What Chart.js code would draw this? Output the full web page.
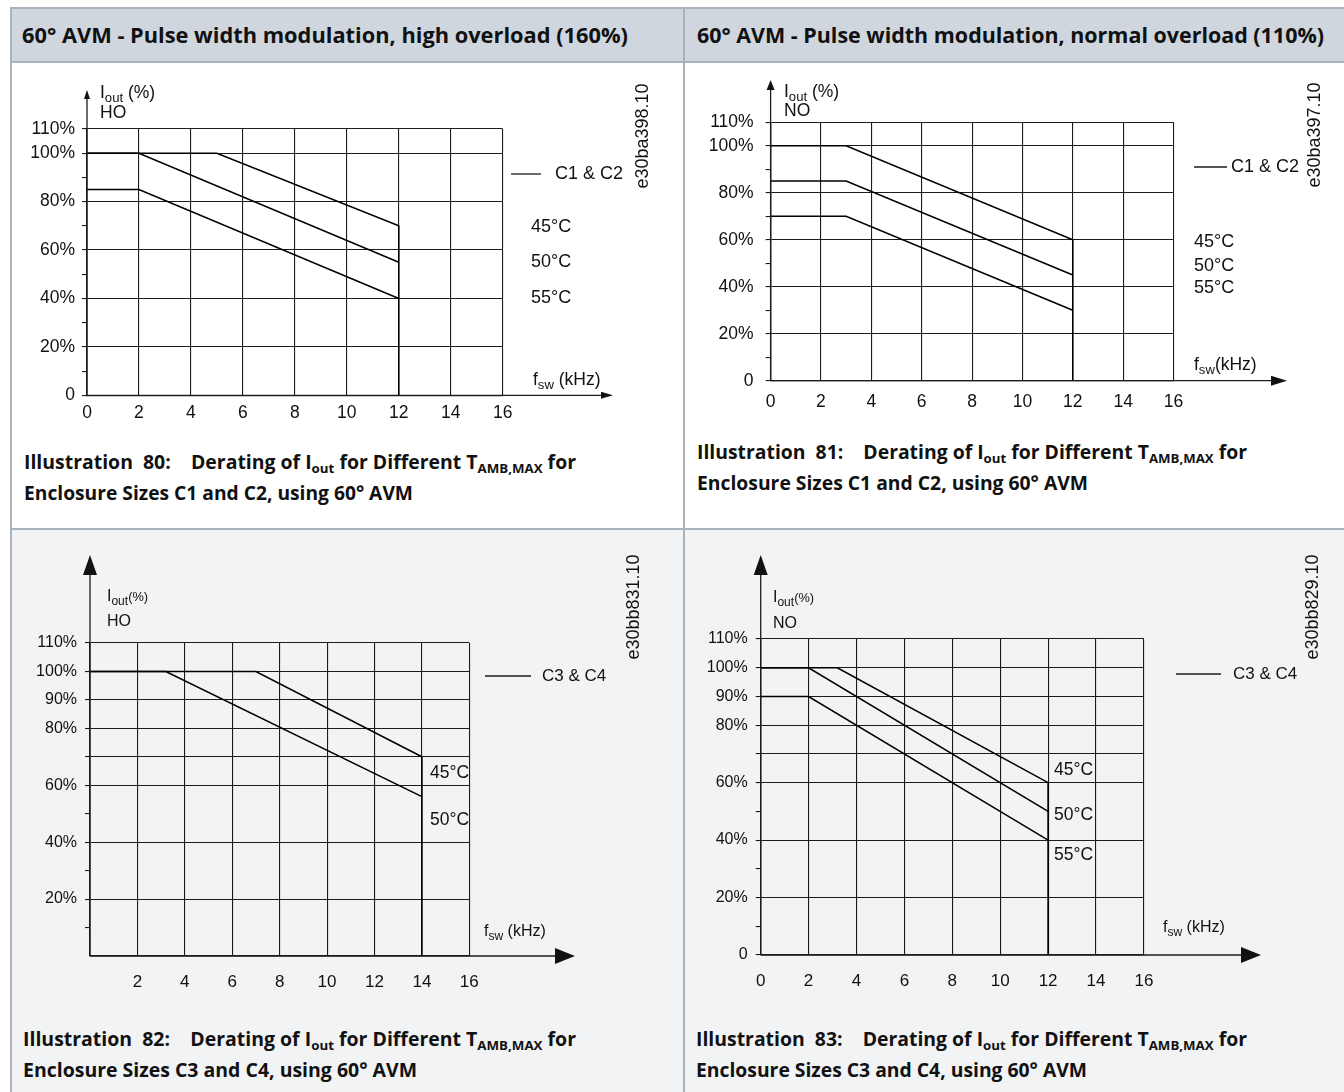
<!DOCTYPE html>
<html><head><meta charset="utf-8">
<script src="https://cdn.jsdelivr.net/npm/chart.js@4.4.1/dist/chart.umd.min.js"></script>
<style>
html,body{margin:0;padding:0;background:#fff;width:1344px;height:1092px;overflow:hidden;position:relative;}
.box{position:absolute;}
.fit{position:absolute;white-space:nowrap;transform-origin:0 50%;color:#111;}
.hdr{font-family:'Open Sans',sans-serif;font-weight:700;font-size:21px;line-height:26px;height:26px;}
.cap{font-family:'Open Sans',sans-serif;font-weight:700;font-size:19px;line-height:24px;height:24px;}
.cap .sb{font-size:13px;position:relative;top:4px;}
canvas{position:absolute;}
</style></head><body>

<div class="box" style="left:11px;top:8px;width:1333px;height:54px;background:#cfd6de"></div>
<div class="box" style="left:11px;top:62px;width:1333px;height:467px;background:#fff"></div>
<div class="box" style="left:11px;top:529px;width:1333px;height:563px;background:#f2f3f5"></div>
<div class="box" style="left:10px;top:7px;width:1334px;height:2px;background:#a9b3bd"></div>
<div class="box" style="left:10px;top:7px;width:2px;height:1085px;background:#a9b3bd"></div>
<div class="box" style="left:10px;top:61px;width:1334px;height:2px;background:#a9b3bd"></div>
<div class="box" style="left:10px;top:528px;width:1334px;height:2px;background:#a9b3bd"></div>
<div class="box" style="left:683px;top:7px;width:2px;height:1085px;background:#a9b3bd"></div>

<div class="fit hdr" data-w="606" style="left:22px;top:22px">60° AVM - Pulse width modulation, high overload (160%)</div>
<div class="fit hdr" data-w="627" style="left:697px;top:22px">60° AVM - Pulse width modulation, normal overload (110%)</div>

<div class="fit cap" data-w="552" style="left:24px;top:450px">Illustration&nbsp; 80:&nbsp;&nbsp;&nbsp; Derating of I<span class="sb">out</span> for Different T<span class="sb">AMB,MAX</span> for</div>
<div class="fit cap" data-w="389" style="left:24px;top:481px">Enclosure Sizes C1 and C2, using 60° AVM</div>
<div class="fit cap" data-w="550" style="left:697px;top:440px">Illustration&nbsp; 81:&nbsp;&nbsp;&nbsp; Derating of I<span class="sb">out</span> for Different T<span class="sb">AMB,MAX</span> for</div>
<div class="fit cap" data-w="391" style="left:697px;top:471px">Enclosure Sizes C1 and C2, using 60° AVM</div>
<div class="fit cap" data-w="553" style="left:23px;top:1027px">Illustration&nbsp; 82:&nbsp;&nbsp;&nbsp; Derating of I<span class="sb">out</span> for Different T<span class="sb">AMB,MAX</span> for</div>
<div class="fit cap" data-w="394" style="left:23px;top:1058px">Enclosure Sizes C3 and C4, using 60° AVM</div>
<div class="fit cap" data-w="551" style="left:696px;top:1027px">Illustration&nbsp; 83:&nbsp;&nbsp;&nbsp; Derating of I<span class="sb">out</span> for Different T<span class="sb">AMB,MAX</span> for</div>
<div class="fit cap" data-w="391" style="left:696px;top:1058px">Enclosure Sizes C3 and C4, using 60° AVM</div>

<canvas id="c80" width="671" height="380" style="left:12px;top:63px"></canvas>
<canvas id="c81" width="659" height="365" style="left:685px;top:63px"></canvas>
<canvas id="c82" width="671" height="480" style="left:12px;top:530px"></canvas>
<canvas id="c83" width="659" height="480" style="left:685px;top:530px"></canvas>

<script>
// ---------- data ----------
const freqTicks = [0, 2, 4, 6, 8, 10, 12, 14, 16];
const freqLabelsWithZero = ['0', '2', '4', '6', '8', '10', '12', '14', '16'];
const freqLabelsNoZero = ['', '2', '4', '6', '8', '10', '12', '14', '16'];

const ioutTicks = [0, 10, 20, 30, 40, 50, 60, 70, 80, 90, 100, 110];
const ioutLabelsC1C2 = ['0', '', '20%', '', '40%', '', '60%', '', '80%', '', '100%', '110%'];
const ioutGridC1C2 = [0, 20, 40, 60, 80, 100, 110];
const ioutLabelsC3C4HO = ['', '', '20%', '', '40%', '', '60%', '', '80%', '90%', '100%', '110%'];
const ioutLabelsC3C4NO = ['0', '', '20%', '', '40%', '', '60%', '', '80%', '90%', '100%', '110%'];
const ioutGridC3C4 = [0, 20, 40, 60, 70, 80, 90, 100, 110];

// Illustration 80: HO, C1 & C2
const ill80Freq45 = [0, 5, 12, 12];   const ill80Iout45 = [100, 100, 70, 0];
const ill80Freq50 = [0, 2, 12];       const ill80Iout50 = [100, 100, 55];
const ill80Freq55 = [0, 2, 12];       const ill80Iout55 = [85, 85, 40];
// Illustration 81: NO, C1 & C2
const ill81Freq45 = [0, 3, 12, 12];   const ill81Iout45 = [100, 100, 60, 0];
const ill81Freq50 = [0, 3, 12];       const ill81Iout50 = [85, 85, 45];
const ill81Freq55 = [0, 3, 12];       const ill81Iout55 = [70, 70, 30];
// Illustration 82: HO, C3 & C4
const ill82Freq45 = [0, 7, 14, 14];   const ill82Iout45 = [100, 100, 70, 0];
const ill82Freq50 = [0, 3.2, 14];     const ill82Iout50 = [100, 100, 56];
// Illustration 83: NO, C3 & C4
const ill83Freq45 = [0, 3.2, 12, 12]; const ill83Iout45 = [100, 100, 60, 0];
const ill83Freq50 = [0, 2, 12];       const ill83Iout50 = [100, 100, 50];
const ill83Freq55 = [0, 2, 12];       const ill83Iout55 = [90, 90, 40];

// ---------- rendering ----------
const FAM = "'Liberation Sans', Arial, sans-serif";
const GRID = '#1c1c1c';
Chart.defaults.font.family = FAM;
Chart.defaults.color = '#111';

function drawRich(ctx, x, y, segs, size) {
  let cx = x;
  ctx.textBaseline = 'middle'; ctx.textAlign = 'left'; ctx.fillStyle = '#111';
  segs.forEach(s => {
    const fs = size * (s.k || 1);
    ctx.font = fs + 'px ' + FAM;
    ctx.fillText(s.t, cx, y + (s.dy || 0) * size);
    cx += ctx.measureText(s.t).width;
  });
}

const overlay = {
  id: 'overlay',
  afterDraw(chart) {
    const d = chart.config.options.deco;
    const ctx = chart.ctx;
    const xs = chart.scales.x, ys = chart.scales.y;
    const x0 = xs.getPixelForValue(0), y0 = ys.getPixelForValue(0);
    ctx.save();
    ctx.strokeStyle = GRID; ctx.fillStyle = '#111'; ctx.lineWidth = 1.3;
    const ty = d.yTip - d.oy, tx = d.xTip - d.ox;
    ctx.beginPath(); ctx.moveTo(x0, y0); ctx.lineTo(x0, ty + d.yHead[0] * 0.5); ctx.stroke();
    ctx.beginPath(); ctx.moveTo(x0, ty); ctx.lineTo(x0 - d.yHead[1], ty + d.yHead[0]); ctx.lineTo(x0 + d.yHead[1], ty + d.yHead[0]); ctx.closePath(); ctx.fill();
    ctx.beginPath(); ctx.moveTo(x0, y0); ctx.lineTo(tx - d.xHead[0] * 0.5, y0); ctx.stroke();
    ctx.beginPath(); ctx.moveTo(tx, y0); ctx.lineTo(tx - d.xHead[0], y0 - d.xHead[1]); ctx.lineTo(tx - d.xHead[0], y0 + d.xHead[1]); ctx.closePath(); ctx.fill();
    // legend line
    ctx.lineWidth = 1.3;
    ctx.beginPath(); ctx.moveTo(d.leg[0] - d.ox, d.leg[2] - d.oy); ctx.lineTo(d.leg[1] - d.ox, d.leg[2] - d.oy); ctx.stroke();
    d.texts.forEach(t => drawRich(ctx, t.x - d.ox, t.y - d.oy, t.segs, t.size));
    ctx.translate(d.id.x - d.ox, d.id.y - d.oy);
    ctx.rotate(-Math.PI / 2);
    ctx.textAlign = 'center'; ctx.textBaseline = 'middle';
    ctx.font = d.id.size + 'px ' + FAM;
    ctx.fillText(d.id.text, 0, 0);
    ctx.restore();
  }
};

function makeChart(id, spec) {
  const el = document.getElementById(id);
  const ox = parseFloat(el.style.left), oy = parseFloat(el.style.top);
  const W = el.width, H = el.height;
  const yW = 70, xH = 40;
  const a = spec.area;
  const datasets = spec.series.map(s => ({
    data: s[0].map((f, i) => ({ x: f, y: s[1][i] })),
    borderColor: '#000', borderWidth: 1.6, pointRadius: 0, fill: false, tension: 0
  }));
  spec.deco.ox = ox; spec.deco.oy = oy;
  return new Chart(el, {
    type: 'line',
    data: { datasets },
    options: {
      responsive: false, animation: false, events: [],
      deco: spec.deco,
      layout: { padding: { left: a.l - ox - yW, right: ox + W - a.r, top: a.t - oy, bottom: oy + H - a.b - xH } },
      plugins: { legend: { display: false }, tooltip: { enabled: false } },
      scales: {
        x: {
          type: 'linear', min: 0, max: 16,
          afterBuildTicks: s => { s.ticks = freqTicks.map(v => ({ value: v })); },
          afterFit: s => { s.height = xH; },
          ticks: { autoSkip: false, maxRotation: 0, padding: spec.xPad, color: '#111',
                   font: { size: spec.xFont }, callback: (v, i) => spec.xLabels[i] },
          grid: { color: GRID, lineWidth: 1.1, drawTicks: false },
          border: { display: true, color: GRID, width: 1.3 }
        },
        y: {
          type: 'linear', min: 0, max: 110,
          afterBuildTicks: s => { s.ticks = ioutTicks.map(v => ({ value: v })); },
          afterFit: s => { s.width = yW; },
          ticks: { autoSkip: false, padding: spec.yPad, color: '#111',
                   font: { size: spec.yFont }, callback: (v, i) => spec.yLabels[i] },
          grid: {
            lineWidth: 1.1, tickLength: 5,
            color: c => spec.yGrid.includes(c.tick.value) ? GRID : 'rgba(0,0,0,0)',
            tickColor: c => (c.tick.value === 0 && !spec.zeroTick) ? 'rgba(0,0,0,0)' : GRID
          },
          border: { display: true, color: GRID, width: 1.3 }
        }
      }
    },
    plugins: [overlay]
  });
}

const SUB = { k: 0.75, dy: 0.3 };
function fsw(space) {
  return [{ t: 'f' }, Object.assign({ t: 'sw' }, SUB), { t: (space ? ' ' : '') + '(kHz)' }];
}
function T(x, y, size, segs) { return { x, y, size, segs }; }

makeChart('c80', {
  area: { l: 87, r: 502.7, t: 129, b: 395.3 },
  series: [[ill80Freq45, ill80Iout45], [ill80Freq50, ill80Iout50], [ill80Freq55, ill80Iout55]],
  xLabels: freqLabelsWithZero, yLabels: ioutLabelsC1C2, yGrid: ioutGridC1C2, zeroTick: true,
  xFont: 17.5, yFont: 17.5, xPad: 7, yPad: 7,
  deco: {
    yTip: 90, yHead: [9, 3], xTip: 613, xHead: [12, 3.5], leg: [511, 541, 174],
    id: { x: 643, y: 136, size: 18, text: 'e30ba398.10' },
    texts: [
      T(100, 93, 17.5, [{ t: 'I' }, Object.assign({ t: 'out' }, SUB), { t: ' (%)' }]),
      T(100, 113, 17.5, [{ t: 'HO' }]),
      T(555, 174, 18, [{ t: 'C1 & C2' }]),
      T(531, 227, 18, [{ t: '45°C' }]),
      T(531, 262, 18, [{ t: '50°C' }]),
      T(531, 298, 18, [{ t: '55°C' }]),
      T(533, 380, 17.5, fsw(true))
    ]
  }
});

makeChart('c81', {
  area: { l: 770.6, r: 1173.5, t: 122.3, b: 380.7 },
  series: [[ill81Freq45, ill81Iout45], [ill81Freq50, ill81Iout50], [ill81Freq55, ill81Iout55]],
  xLabels: freqLabelsWithZero, yLabels: ioutLabelsC1C2, yGrid: ioutGridC1C2, zeroTick: true,
  xFont: 17.5, yFont: 17.5, xPad: 11, yPad: 12,
  deco: {
    yTip: 80, yHead: [10, 4], xTip: 1287, xHead: [16, 5], leg: [1194, 1227, 167],
    id: { x: 1315, y: 135, size: 18, text: 'e30ba397.10' },
    texts: [
      T(784, 92, 17.5, [{ t: 'I' }, Object.assign({ t: 'out' }, SUB), { t: ' (%)' }]),
      T(784, 111, 17.5, [{ t: 'NO' }]),
      T(1231, 167, 18, [{ t: 'C1 & C2' }]),
      T(1194, 242, 18, [{ t: '45°C' }]),
      T(1194, 266, 18, [{ t: '50°C' }]),
      T(1194, 288, 18, [{ t: '55°C' }]),
      T(1194, 365, 17.5, fsw(false))
    ]
  }
});

makeChart('c82', {
  area: { l: 90, r: 469.3, t: 643, b: 956 },
  series: [[ill82Freq45, ill82Iout45], [ill82Freq50, ill82Iout50]],
  xLabels: freqLabelsNoZero, yLabels: ioutLabelsC3C4HO, yGrid: ioutGridC3C4, zeroTick: false,
  xFont: 17, yFont: 16, xPad: 16, yPad: 8,
  deco: {
    yTip: 555, yHead: [20, 7], xTip: 575, xHead: [20, 8], leg: [485, 531, 676],
    id: { x: 634, y: 607, size: 18, text: 'e30bb831.10' },
    texts: [
      T(107, 597, 16, [{ t: 'I' }, Object.assign({ t: 'out' }, SUB), { t: '(%)', k: 0.8 }]),
      T(107, 622, 16, [{ t: 'HO' }]),
      T(542, 676, 17, [{ t: 'C3 & C4' }]),
      T(430, 773, 17.5, [{ t: '45°C' }]),
      T(430, 820, 17.5, [{ t: '50°C' }]),
      T(484, 932, 16, fsw(true))
    ]
  }
});

makeChart('c83', {
  area: { l: 760.7, r: 1143.9, t: 639, b: 955 },
  series: [[ill83Freq45, ill83Iout45], [ill83Freq50, ill83Iout50], [ill83Freq55, ill83Iout55]],
  xLabels: freqLabelsWithZero, yLabels: ioutLabelsC3C4NO, yGrid: ioutGridC3C4, zeroTick: true,
  xFont: 17, yFont: 16, xPad: 16, yPad: 8,
  deco: {
    yTip: 555, yHead: [20, 7], xTip: 1261, xHead: [20, 8], leg: [1176, 1221, 674],
    id: { x: 1313, y: 607, size: 18, text: 'e30bb829.10' },
    texts: [
      T(773, 598, 16, [{ t: 'I' }, Object.assign({ t: 'out' }, SUB), { t: '(%)', k: 0.8 }]),
      T(773, 624, 16, [{ t: 'NO' }]),
      T(1233, 674, 17, [{ t: 'C3 & C4' }]),
      T(1054, 770, 17.5, [{ t: '45°C' }]),
      T(1054, 815, 17.5, [{ t: '50°C' }]),
      T(1054, 855, 17.5, [{ t: '55°C' }]),
      T(1163, 928, 16, fsw(true))
    ]
  }
});

// fit the HTML heading/caption texts to their measured widths
document.querySelectorAll('.fit').forEach(el => {
  const w = el.getBoundingClientRect().width;
  el.style.transform = 'scaleX(' + (parseFloat(el.dataset.w) / w) + ')';
});
</script>
</body></html>
